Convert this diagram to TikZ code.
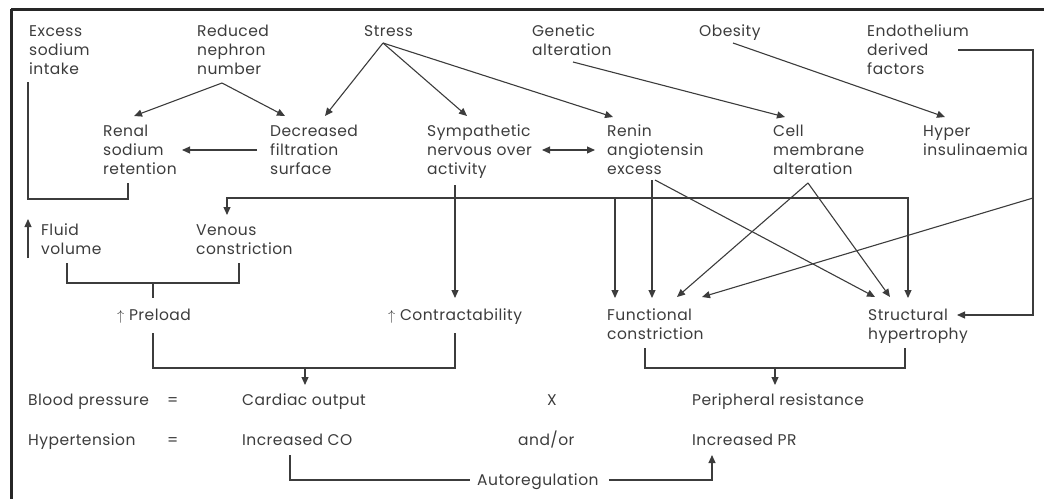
\documentclass[tikz,border=0pt]{standalone}
\usepackage{fontspec}
\setmainfont[LetterSpace=3]{Poppins}
\usetikzlibrary{arrows.meta,calc}
\definecolor{ink}{HTML}{3C3C3C}
% stacked lines whose reference point is the first baseline
\newcommand\stk[1]{\begin{tabular}[t]{@{}l@{}}#1\end{tabular}}
\begin{document}
\begin{tikzpicture}[x=1pt,y=-1pt,
  lbl/.style={anchor=base west,inner sep=0pt,text=ink,
    font=\fontsize{15.5}{19}\selectfont},
  link/.style={draw=ink,line width=1.1pt},
  arr/.style={link,-{Triangle[length=8pt,width=7pt]}},
  dblarr/.style={link,{Triangle[length=8pt,width=7pt]}-{Triangle[length=8pt,width=7pt]}},
  frame/.style={draw=black!85,line width=3pt}]
\useasboundingbox (0,0) rectangle (1044,499);
% outer frame: top and left edges only
\draw[frame] (11,9) -- (1044,9);
\draw[frame] (11,9) -- (11,499);

% causes
\node[lbl] (excess)  at (29,36)  {\stk{Excess\\sodium\\intake}};
\node[lbl] (reduced) at (197,36) {\stk{Reduced\\nephron\\number}};
\node[lbl] (stress)  at (364,36) {Stress};
\node[lbl] (genetic) at (532,36) {\stk{Genetic\\alteration}};
\node[lbl] (obesity) at (699,36) {Obesity};
\node[lbl] (endo)    at (867,36) {\stk{Endothelium\\derived\\factors}};
% mechanisms
\node[lbl] (renal)   at (103,136) {\stk{Renal\\sodium\\retention}};
\node[lbl] (decr)    at (270,136) {\stk{Decreased\\filtration\\surface}};
\node[lbl] (symp)    at (427,136) {\stk{Sympathetic\\nervous over\\activity}};
\node[lbl] (renin)   at (607,136) {\stk{Renin\\angiotensin\\excess}};
\node[lbl] (cell)    at (773,136) {\stk{Cell\\membrane\\alteration}};
\node[lbl] (hyper)   at (923,136) {\stk{Hyper\\insulinaemia}};
\node[lbl] (fluid)   at (41,235)  {\stk{Fluid\\volume}};
\node[lbl] (venous)  at (196,235) {\stk{Venous\\constriction}};
% haemodynamic effects
\node[lbl] (preload) at (117,320) {$\uparrow$ Preload};
\node[lbl] (contr)   at (388,320) {$\uparrow$ Contractability};
\node[lbl] (func)    at (607,320) {\stk{Functional\\constriction}};
\node[lbl] (struct)  at (868,320) {\stk{Structural\\hypertrophy}};
% equations
\node[lbl] (bp)     at (28,405)  {Blood pressure};
\node[lbl] (eqa)    at (167,405) {=};
\node[lbl] (co)     at (242,405) {Cardiac output};
\node[lbl] (times)  at (547,405) {X};
\node[lbl] (pr)     at (692,405) {Peripheral resistance};
\node[lbl] (ht)     at (28,445)  {Hypertension};
\node[lbl] (eqb)    at (167,445) {=};
\node[lbl] (ico)    at (242,445) {Increased CO};
\node[lbl] (andor)  at (518,445) {and/or};
\node[lbl] (ipr)    at (692,445) {Increased PR};
\node[lbl] (auto)   at (477,485) {Autoregulation};

% sodium bracket
\draw[link] ($(excess.base west)+(-1,46)$) |- ($(renal.base west)+(25,63)$)
  -- ($(renal.base west)+(25,47)$);
% raised fluid volume
\draw[arr] ($(fluid.base west)+(-13,23)$) -- ($(fluid.base west)+(-13,-16)$);

% from the causes
\draw[arr] ($(reduced.base west)+(25,47)$) -- ($(renal.base west)+(31,-20)$);
\draw[arr] ($(reduced.base west)+(25,47)$) -- ($(decr.base west)+(15,-20)$);
\draw[arr] ($(stress.base west)+(19,7)$) -- ($(decr.base west)+(55,-20)$);
\draw[arr] ($(stress.base west)+(19,7)$) -- ($(symp.base west)+(40,-20)$);
\draw[arr] ($(stress.base west)+(19,7)$) -- ($(renin.base west)+(6,-19)$);
\draw[arr] ($(decr.base west)+(-13,14)$) -- ($(renal.base west)+(79,14)$);
\draw[dblarr] ($(symp.base west)+(115,14)$) -- ($(renin.base west)+(-12,14)$);
\draw[arr] ($(genetic.base west)+(41,26)$) -- ($(cell.base west)+(12,-19)$);
\draw[arr] ($(obesity.base west)+(34,7)$) -- ($(hyper.base west)+(22,-19)$);
\draw[arr] ($(endo.base west)+(91,14)$) -- ($(endo.base west)+(166,14)$)
  |- ($(struct.base west)+(89,-5)$);
\draw[arr] ($(endo.base west)+(166,162)$) -- ($(func.base west)+(95,-23)$);

% down to the effects
\draw[arr] ($(symp.base west)+(28,49)$) -- ($(contr.base west)+(67,-22)$);
\draw[dblarr] ($(venous.base west)+(31,-20)$) |- ($(struct.base west)+(40,-122)$)
  -- ($(struct.base west)+(40,-22)$);
\draw[arr] ($(func.base west)+(8,-122)$) -- ($(func.base west)+(8,-22)$);
\draw[arr] ($(renin.base west)+(45,44)$) -- ($(func.base west)+(45,-22)$);
\draw[arr] ($(renin.base west)+(48,44)$) -- ($(struct.base west)+(7,-23)$);
\draw[arr] ($(cell.base west)+(35,47)$) -- ($(func.base west)+(70,-23)$);
\draw[arr] ($(cell.base west)+(35,47)$) -- ($(struct.base west)+(22,-23)$);

% preload bracket
\draw[link] ($(fluid.base west)+(26,28)$) |- ($(venous.base west)+(43,48)$)
  -- ($(venous.base west)+(43,28)$);
\draw[link] ($(preload.base west)+(36,-37)$) -- ($(preload.base west)+(36,-22)$);
% cardiac output bracket
\draw[link] ($(preload.base west)+(36,13)$) |- ($(contr.base west)+(67,48)$)
  -- ($(contr.base west)+(67,13)$);
\draw[arr] ($(co.base west)+(63,-37)$) -- ($(co.base west)+(63,-20)$);
% peripheral resistance bracket
\draw[link] ($(func.base west)+(38,28)$) |- ($(struct.base west)+(37,48)$)
  -- ($(struct.base west)+(37,28)$);
\draw[arr] ($(pr.base west)+(83,-37)$) -- ($(pr.base west)+(83,-20)$);
% autoregulation
\draw[link] ($(ico.base west)+(48,10)$) |- ($(auto.base west)+(-7,-5)$);
\draw[arr] ($(auto.base east)+(10,-5)$) -| ($(ipr.base west)+(20,10)$);
\end{tikzpicture}
\end{document}
